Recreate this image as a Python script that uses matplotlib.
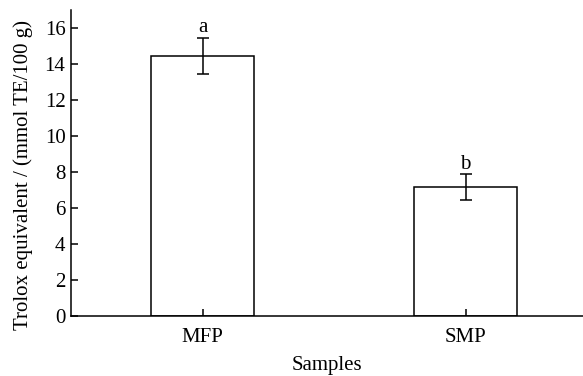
import matplotlib
matplotlib.use("Agg")
import matplotlib.pyplot as plt

samples = ["MFP", "SMP"]
values = [14.45, 7.15]
errors = [1.0, 0.72]
letters = ["a", "b"]

plt.rcParams['font.family'] = ['Liberation Serif', 'DejaVu Serif']
plt.rcParams['font.size'] = 15

fig = plt.figure(figsize=(5.83, 3.76), dpi=100)
ax = fig.add_axes([71/583, 1-316/376, 1-71/583, (316-10)/376])
x = range(len(samples))
ax.bar(x, values, width=0.393, color='white', edgecolor='black', linewidth=1.1,
       yerr=errors, error_kw=dict(ecolor='black', elinewidth=1.1, capsize=4.5, capthick=1.1))
for xi, v, e, l in zip(x, values, errors, letters):
    ax.text(xi, v + e + 0.3, l, ha='center', va='baseline')
ax.set_xlim(-0.5, 1.446)
ax.set_ylim(0, 17)
ax.set_yticks(range(0, 17, 2))
ax.set_xticks(list(x))
ax.set_xticklabels(samples)
ax.spines['top'].set_visible(False)
ax.spines['right'].set_visible(False)
for s in ['left', 'bottom']:
    ax.spines[s].set_linewidth(1.1)
ax.tick_params(direction='in', length=5, width=1.1)
ax.tick_params(axis='y', pad=4)
ax.tick_params(axis='x', pad=9)
ax.set_ylabel("Trolox equivalent / (mmol TE/100 g)", labelpad=8)
ax.yaxis.label.set_y(0.46)
ax.set_xlabel("Samples", labelpad=6)
fig.savefig("out.png", dpi=100)
